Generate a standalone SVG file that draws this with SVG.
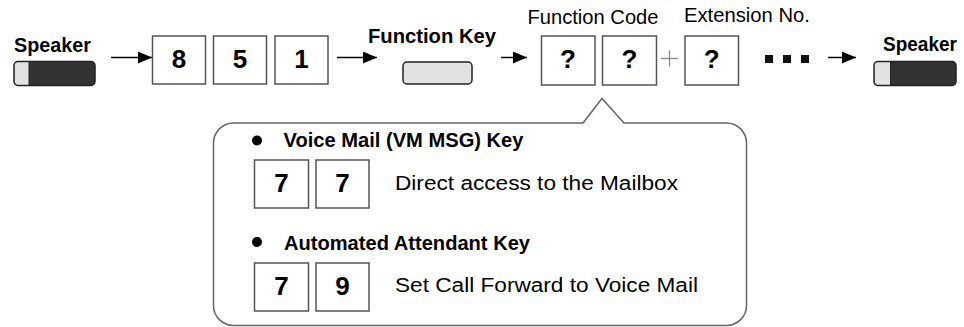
<svg xmlns="http://www.w3.org/2000/svg" width="964" height="327" viewBox="0 0 964 327">
<defs>
<style>
.b{font-family:"Liberation Sans",Arial,sans-serif;font-weight:bold;font-size:20px;fill:#000}
.r{font-family:"Liberation Sans",Arial,sans-serif;font-size:20px;fill:#000}
.d{font-family:"Liberation Sans",Arial,sans-serif;font-weight:bold;font-size:26px;fill:#000;text-anchor:middle}
.box{fill:#fff;stroke:#555;stroke-width:1.5}
.dev{fill:#333;stroke:#222;stroke-width:1.5}
.lt{fill:#e2e2e2}
.ar{stroke:#000;stroke-width:1.5;fill:none;marker-end:url(#ah)}
</style>
<marker id="ah" markerUnits="userSpaceOnUse" markerWidth="14" markerHeight="12" refX="14" refY="6" orient="auto">
<path d="M0,0 L14,6 L0,12 Z" fill="#000"/>
</marker>
</defs>
<g id="connectors">
<line class="ar" x1="111" y1="57.5" x2="152" y2="57.5"/>
<line class="ar" x1="337" y1="57.5" x2="377" y2="57.5"/>
<line class="ar" x1="501" y1="57.5" x2="527" y2="57.5"/>
<line class="ar" x1="828" y1="57.5" x2="856" y2="57.5"/>
</g>
<g id="speaker-left">
<text class="b" x="14" y="52" textLength="77" lengthAdjust="spacingAndGlyphs">Speaker</text>
<rect class="dev" x="14" y="61.5" width="81" height="24" rx="4"/>
<path class="lt" d="M29,62.3 H18 A3.3,3.3 0 0 0 14.8,65.5 V81.5 A3.3,3.3 0 0 0 18,84.7 H29 Z"/>
<line x1="29" y1="62" x2="29" y2="85" stroke="#222" stroke-width="1"/>
</g>
<g id="digits-851">
<rect class="box" x="152.5" y="36" width="53" height="48"/>
<text class="d" x="179" y="68">8</text>
<rect class="box" x="213.5" y="36" width="53" height="48"/>
<text class="d" x="240" y="68">5</text>
<rect class="box" x="275" y="36" width="53" height="48"/>
<text class="d" x="301.5" y="68">1</text>
</g>
<g id="function-key">
<text class="b" x="368" y="43" textLength="128" lengthAdjust="spacingAndGlyphs">Function Key</text>
<rect x="403" y="62" width="69" height="22" rx="4" fill="#e2e2e2" stroke="#222" stroke-width="1.5"/>
</g>
<g id="function-code">
<text class="r" x="527.5" y="24" textLength="131" lengthAdjust="spacingAndGlyphs">Function Code</text>
<rect class="box" x="541.5" y="36" width="53.5" height="49"/>
<text class="d" x="568" y="68">?</text>
<rect class="box" x="602.5" y="36" width="54" height="49"/>
<text class="d" x="629.5" y="68">?</text>
</g>
<g id="plus">
<line x1="661" y1="58.5" x2="678" y2="58.5" stroke="#888" stroke-width="1.3"/>
<line x1="669.5" y1="50.5" x2="669.5" y2="66.5" stroke="#888" stroke-width="1.3"/>
</g>
<g id="extension">
<text class="r" x="684" y="22" textLength="126" lengthAdjust="spacingAndGlyphs">Extension No.</text>
<rect class="box" x="685" y="36" width="53.5" height="49"/>
<text class="d" x="711.7" y="68">?</text>
</g>
<g id="dots" fill="#111">
<rect x="765" y="55" width="8" height="8"/>
<rect x="783" y="55" width="8" height="8"/>
<rect x="801" y="55" width="8" height="8"/>
</g>
<g id="speaker-right">
<text class="b" x="883" y="51" textLength="74" lengthAdjust="spacingAndGlyphs">Speaker</text>
<rect class="dev" x="874" y="61.5" width="82" height="24" rx="4"/>
<path class="lt" d="M890.5,62.3 H878 A3.3,3.3 0 0 0 874.8,65.5 V81.5 A3.3,3.3 0 0 0 878,84.7 H890.5 Z"/>
<line x1="890.5" y1="62" x2="890.5" y2="85" stroke="#222" stroke-width="1"/>
</g>
<g id="callout">
<path d="M233.5,123 H583 L602,98.5 L624,123 H726.5 A20,20 0 0 1 746.5,143 V305.5 A20,20 0 0 1 726.5,325.5 H233.5 A20,20 0 0 1 213.5,305.5 V143 A20,20 0 0 1 233.5,123 Z" fill="#fff" stroke="#666" stroke-width="1.5"/>
<circle cx="257" cy="140.5" r="5" fill="#000"/>
<text class="b" x="283.5" y="147" textLength="240" lengthAdjust="spacingAndGlyphs">Voice Mail (VM MSG) Key</text>
<rect class="box" x="254.5" y="160" width="54" height="48"/>
<text class="d" x="281.5" y="192.3">7</text>
<rect class="box" x="316" y="160" width="53" height="48"/>
<text class="d" x="342.5" y="192.3">7</text>
<text class="r" x="395" y="189.5" font-size="22" textLength="283" lengthAdjust="spacingAndGlyphs">Direct access to the Mailbox</text>
<circle cx="257" cy="242" r="5" fill="#000"/>
<text class="b" x="284" y="249.5" textLength="246" lengthAdjust="spacingAndGlyphs">Automated Attendant Key</text>
<rect class="box" x="254.5" y="263" width="54" height="48"/>
<text class="d" x="281.5" y="294.5">7</text>
<rect class="box" x="316" y="263" width="53" height="48"/>
<text class="d" x="342.5" y="294.5">9</text>
<text class="r" x="395" y="292" font-size="22" textLength="303" lengthAdjust="spacingAndGlyphs">Set Call Forward to Voice Mail</text>
</g>
</svg>
